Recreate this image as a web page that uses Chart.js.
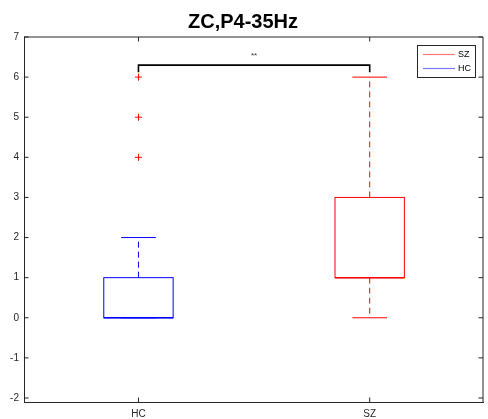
<!DOCTYPE html>
<html>
<head>
<meta charset="utf-8">
<script src="https://cdn.jsdelivr.net/npm/chart.js@4/dist/chart.umd.min.js"></script>
<style>
html,body{margin:0;padding:0;background:#fff;}
#wrap{width:488px;height:419px;}
</style>
</head>
<body>
<div id="wrap"><canvas id="c" width="488" height="419"></canvas></div>
<script>
// ---- data ----
const categories   = ['HC', 'SZ'];
const groupColors  = ['#0000ff', '#ff0000'];
const q1           = [0, 1];
const medians      = [0, 1];
const q3           = [1, 3];
const whiskerLow   = [0, 0];
const whiskerHigh  = [2, 6];
const outliersHC   = [4, 5, 6];
const outliersSZ   = [];
const yTicks       = [-2, -1, 0, 1, 2, 3, 4, 5, 6, 7];
const legendLabels = ['SZ', 'HC'];
const legendColors = ['#ff7777', '#7777ff'];
const bracketTop   = 6.3;
const bracketLeg   = 6.12;
const bracketText  = '**';
const titleText    = 'ZC,P4-35Hz';

const FONT = "'Liberation Sans', Arial, sans-serif";
const AX = '#262626';

const boxPlugin = {
  id: 'boxPlugin',
  afterDatasetsDraw(chart) {
    const ctx = chart.ctx;
    const xs = chart.scales.x, ys = chart.scales.y;
    const ca = chart.chartArea;
    ctx.save();
    // axes box (top + right) and inner ticks
    ctx.strokeStyle = AX;
    ctx.lineWidth = 1;
    ctx.beginPath();
    ctx.moveTo(ca.left, ca.top); ctx.lineTo(ca.right, ca.top);
    ctx.moveTo(ca.right, ca.top); ctx.lineTo(ca.right, ca.bottom);
    ys.ticks.forEach(t => {
      const y = ys.getPixelForValue(t.value);
      ctx.moveTo(ca.left, y); ctx.lineTo(ca.left + 4.5, y);
      ctx.moveTo(ca.right, y); ctx.lineTo(ca.right - 4.5, y);
    });
    xs.ticks.forEach(t => {
      const x = xs.getPixelForValue(t.value);
      ctx.moveTo(x, ca.bottom); ctx.lineTo(x, ca.bottom - 4.5);
      ctx.moveTo(x, ca.top); ctx.lineTo(x, ca.top + 4.5);
    });
    ctx.stroke();

    // boxes
    const halfBox = 0.15, halfCap = 0.075;
    categories.forEach((c, i) => {
      const xv = i + 1;
      const col = groupColors[i];
      const xl = xs.getPixelForValue(xv - halfBox), xr = xs.getPixelForValue(xv + halfBox);
      const xc = xs.getPixelForValue(xv);
      const cl = xs.getPixelForValue(xv - halfCap), cr = xs.getPixelForValue(xv + halfCap);
      const yq1 = ys.getPixelForValue(q1[i]), yq3 = ys.getPixelForValue(q3[i]);
      const ym = ys.getPixelForValue(medians[i]);
      const ywl = ys.getPixelForValue(whiskerLow[i]), ywh = ys.getPixelForValue(whiskerHigh[i]);
      ctx.strokeStyle = col;
      ctx.lineWidth = 1;
      // whiskers dashed
      ctx.setLineDash([6, 4]);
      ctx.beginPath();
      ctx.moveTo(xc, yq3); ctx.lineTo(xc, ywh);
      ctx.moveTo(xc, yq1); ctx.lineTo(xc, ywl);
      ctx.stroke();
      ctx.setLineDash([]);
      // caps
      ctx.beginPath();
      ctx.moveTo(cl, ywh); ctx.lineTo(cr, ywh);
      ctx.moveTo(cl, ywl); ctx.lineTo(cr, ywl);
      ctx.stroke();
      // box
      ctx.strokeRect(xl, yq3, xr - xl, yq1 - yq3);
      // median
      ctx.lineWidth = 1.5;
      ctx.beginPath();
      ctx.moveTo(xl, ym); ctx.lineTo(xr, ym);
      ctx.stroke();
    });

    // significance bracket
    const bx1 = xs.getPixelForValue(1), bx2 = xs.getPixelForValue(2);
    const byT = ys.getPixelForValue(bracketTop), byL = ys.getPixelForValue(bracketLeg);
    ctx.strokeStyle = '#000';
    ctx.lineWidth = 1.6;
    ctx.beginPath();
    ctx.moveTo(bx1, byL); ctx.lineTo(bx1, byT); ctx.lineTo(bx2, byT); ctx.lineTo(bx2, byL);
    ctx.stroke();
    ctx.fillStyle = '#333';
    ctx.font = '8px ' + FONT;
    ctx.textAlign = 'center';
    ctx.textBaseline = 'middle';
    ctx.fillText(bracketText, (bx1 + bx2) / 2, byT - 9);

    // legend
    const lx = ca.right - 66, ly = ca.top + 8, lw = 58, lh = 32;
    ctx.fillStyle = '#fff';
    ctx.fillRect(lx, ly, lw, lh);
    ctx.strokeStyle = '#262626';
    ctx.lineWidth = 1;
    ctx.strokeRect(lx + 0.5, ly + 0.5, lw, lh);
    legendLabels.forEach((lab, k) => {
      const yy = ly + 9.5 + k * 14;
      ctx.strokeStyle = legendColors[k];
      ctx.lineWidth = 1.2;
      ctx.beginPath();
      ctx.moveTo(lx + 6, yy); ctx.lineTo(lx + 38, yy);
      ctx.stroke();
      ctx.fillStyle = '#000';
      ctx.font = '9px ' + FONT;
      ctx.textAlign = 'left';
      ctx.textBaseline = 'middle';
      ctx.fillText(lab, lx + 41, yy + 0.5);
    });
    ctx.restore();
  }
};

const outlierPoints = [
  ...outliersHC.map(v => ({x: 1, y: v})),
  ...outliersSZ.map(v => ({x: 2, y: v}))
];

new Chart(document.getElementById('c'), {
  type: 'scatter',
  data: {
    datasets: [{
      label: 'outliers',
      data: outlierPoints,
      pointStyle: 'cross',
      radius: 3.5,
      borderColor: '#ff0000',
      backgroundColor: '#ff0000',
      borderWidth: 1
    }]
  },
  options: {
    responsive: false,
    animation: false,
    layout: { padding: { left: 0, right: 2, top: 0, bottom: 0 } },
    plugins: {
      legend: { display: false },
      tooltip: { enabled: false },
      title: {
        display: true,
        text: titleText,
        color: '#000',
        font: { family: FONT, size: 20, weight: 'bold' },
        padding: { top: 10, bottom: 3 }
      }
    },
    scales: {
      x: {
        type: 'linear',
        min: 0.505, max: 2.49,
        afterBuildTicks: s => { s.ticks = categories.map((c, i) => ({ value: i + 1 })); },
        afterFit: s => { s.height = 17; },
        grid: { display: true, drawOnChartArea: false, drawTicks: false },
        border: { display: true, color: AX, width: 1 },
        ticks: {
          padding: 6,
          color: AX,
          font: { family: FONT, size: 10 },
          maxRotation: 0,
          callback: v => categories[Math.round(v) - 1]
        }
      },
      y: {
        type: 'linear',
        min: -2.1, max: 7,
        afterBuildTicks: s => { s.ticks = yTicks.map(v => ({ value: v })); },
        afterFit: s => { s.width = 24; },
        grid: { display: true, drawOnChartArea: false, drawTicks: false },
        border: { display: true, color: AX, width: 1 },
        ticks: {
          padding: 5,
          color: AX,
          font: { family: FONT, size: 10 },
          callback: v => String(v)
        }
      }
    }
  },
  plugins: [boxPlugin]
});
</script>
</body>
</html>
